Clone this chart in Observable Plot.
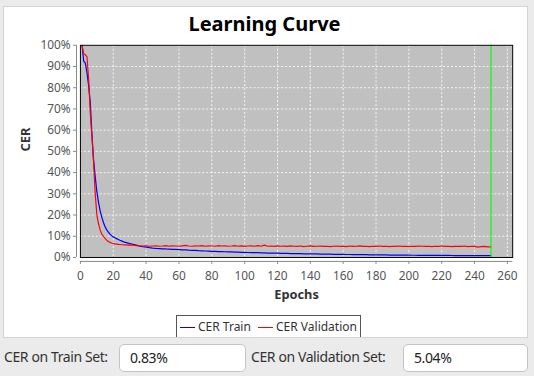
<!DOCTYPE html>
<html>
<head>
<meta charset="utf-8">
<script src="https://cdn.jsdelivr.net/npm/d3@7"></script>
<script src="https://cdn.jsdelivr.net/npm/@observablehq/plot@0.6"></script>
<style>
  html, body { margin: 0; padding: 0; }
  body { width: 534px; height: 376px; background: #ebebeb; position: relative; overflow: hidden; font-family: "Noto Sans", sans-serif; }
  #panel { position: absolute; left: 3px; top: 6px; width: 523px; height: 330px; background: #fff; border: 1px solid #d4d4d4; overflow: hidden; }
  #title { position: absolute; left: -3px; top: -6px; width: 527px; text-align: center; font-weight: bold; font-size: 20px; line-height: 20px; padding-top: 13px; color: #000; }
  #chart { position: absolute; left: -4px; top: 23px; }
  #legend { position: absolute; left: 172px; top: 308px; width: 183px; height: 40px; border: 1px solid #555; background: #fff; font-size: 12px; color: #333; }
  .item { position: absolute; top: 3px; height: 16px; line-height: 16px; white-space: nowrap; }
  .sw { position: absolute; left: 0; top: 8px; width: 15px; height: 0; border-top: 1px solid; }
  .txt { position: absolute; left: 18px; top: 0; }
  #form { position: absolute; left: 0; top: 337px; width: 534px; height: 39px; font-size: 14px; color: #333; letter-spacing: -0.4px; }
  .lbl { position: absolute; top: 12px; line-height: 16px; }
  .box { position: absolute; top: 7px; height: 28px; background: #fff; border: 1px solid #c4c4c4; border-radius: 5px; box-sizing: border-box; padding-left: 10px; line-height: 26px; color: #222; }
</style>
</head>
<body>
<div id="panel">
  <div id="title">Learning Curve</div>
  <div id="chart"></div>
  <div id="legend"></div>
</div>
<div id="form"></div>
<script>
const epochs = [1,2,3,4,5,6,7,8,9,10,11,12,13,14,15,16,17,18,19,20,21,22,23,24,25,26,27,28,29,30,
  32,34,36,38,40,42,44,46,48,50,
  52,54,56,58,60,62,64,66,68,70,
  72,74,76,78,80,82,84,86,88,90,
  92,94,96,98,100,102,104,106,108,110,
  112,114,116,118,120,122,124,126,128,130,
  132,134,136,138,140,142,144,146,148,150,
  152,154,156,158,160,162,164,166,168,170,
  172,174,176,178,180,182,184,186,188,190,
  192,194,196,198,200,202,204,206,208,210,
  212,214,216,218,220,222,224,226,228,230,
  232,234,236,238,240,242,244,246,248,250];

const trainCER = [100,92.5,91.5,87,81,73,58,46,38,31,26,22,19,16.5,14.5,13,12,11,10.3,9.7,9.3,8.9,8.5,8.1,7.8,7.5,7.2,7.0,6.8,6.6,
  6.2,5.8,5.4,5.1,4.9,4.65,4.45,4.3,4.2,4.1,
  4.0,3.95,3.85,3.8,3.7,3.6,3.55,3.45,3.4,3.3,
  3.2,3.15,3.05,3.0,2.9,2.85,2.8,2.75,2.7,2.65,
  2.6,2.55,2.5,2.45,2.4,2.35,2.3,2.3,2.25,2.2,
  2.15,2.1,2.1,2.05,2.0,1.95,1.95,1.9,1.85,1.85,
  1.8,1.8,1.75,1.7,1.7,1.65,1.65,1.6,1.6,1.55,
  1.55,1.5,1.5,1.45,1.45,1.4,1.4,1.38,1.35,1.33,
  1.3,1.3,1.28,1.25,1.23,1.2,1.2,1.18,1.15,1.15,
  1.12,1.1,1.1,1.08,1.07,1.05,1.05,1.03,1.02,1.0,
  1.0,0.99,0.98,0.97,0.96,0.95,0.94,0.93,0.92,0.91,
  0.9,0.9,0.89,0.88,0.87,0.86,0.86,0.85,0.84,0.83];

const validationCER = [100,96,95.5,94.5,84,68,57,45,30,20,16,13,11,10,9,8.2,7.5,7.1,6.8,6.6,6.4,6.3,6.2,6.1,6.0,6.0,5.9,6.0,5.8,5.9,
  5.8,5.6,5.5,5.4,5.5,5.3,5.4,5.5,5.3,5.4,
  5.6,5.3,5.5,5.4,5.3,5.5,5.7,5.4,5.3,5.5,
  5.4,5.6,5.3,5.5,5.4,5.3,5.6,5.4,5.5,5.3,
  5.4,5.6,5.3,5.5,5.2,5.4,5.5,5.3,5.6,5.3,
  5.8,5.3,5.4,5.2,5.5,5.3,5.4,5.2,5.5,5.3,
  5.2,5.4,5.1,5.3,5.5,5.2,5.3,5.4,5.2,5.3,
  5.1,5.3,5.4,5.2,5.3,5.1,5.4,5.2,5.3,5.5,
  5.2,5.3,5.1,5.3,5.2,5.4,5.2,5.3,5.1,5.3,
  5.2,5.4,5.2,5.3,5.1,5.3,5.2,5.4,5.3,5.2,
  5.3,5.1,5.3,5.2,5.4,5.2,5.3,5.1,5.2,5.3,
  5.2,5.4,5.1,5.3,5.2,4.9,5.1,5.2,5.0,5.04];

const xTicks = [0,20,40,60,80,100,120,140,160,180,200,220,240,260];
const yTicks = [0,10,20,30,40,50,60,70,80,90,100];
const currentEpoch = [250];
const seriesNames = ["CER Train", "CER Validation"];
const seriesColors = ["#0000ff", "#ff0000"];
const formLabels = ["CER on Train Set:", "CER on Validation Set:"];
const formValues = ["0.83%", "5.04%"];

const trainData = epochs.map((e, i) => ({epoch: e, cer: trainCER[i]}));
const valData = epochs.map((e, i) => ({epoch: e, cer: validationCER[i]}));

const gridStyle = {stroke: "#ffffff", strokeOpacity: 0.85, strokeDasharray: "2,2", strokeWidth: 1};

const chart = Plot.plot({
  width: 534,
  height: 280,
  marginLeft: 81,
  marginRight: 15,
  marginTop: 15,
  marginBottom: 50,
  x: {domain: [0, 263.22]},
  y: {domain: [0, 100]},
  style: {fontFamily: "'Noto Sans', sans-serif", fontSize: "12px", background: "transparent", color: "#555", overflow: "visible"},
  marks: [
    Plot.frame({fill: "#c0c0c0"}),
    Plot.gridX({ticks: xTicks, ...gridStyle}),
    Plot.gridY({ticks: yTicks, ...gridStyle}),
    Plot.axisX({ticks: xTicks, tickSize: 3, tickPadding: 7, dy: 4, stroke: "#888", fill: "#555", label: null}),
    Plot.axisY({ticks: yTicks, tickSize: 3, tickPadding: 3, dx: -4, stroke: "#888", fill: "#555", tickFormat: d => d + "%", label: null}),
    Plot.ruleX([0], {dx: -4, stroke: "#888"}),
    Plot.ruleY([0], {dy: 4, stroke: "#888"}),
    Plot.line(trainData, {x: "epoch", y: "cer", stroke: seriesColors[0], strokeWidth: 1.25, clip: true}),
    Plot.line(valData, {x: "epoch", y: "cer", stroke: seriesColors[1], strokeWidth: 1.2, clip: true}),
    Plot.ruleX(currentEpoch, {stroke: "#00ff00", strokeWidth: 1.2}),
    Plot.frame({stroke: "#000"}),
    Plot.text(["Epochs"], {frameAnchor: "bottom", lineAnchor: "middle", dy: 38, fontWeight: "bold", fontSize: 13, fill: "#333"}),
    Plot.text(["CER"], {frameAnchor: "left", dx: -55, rotate: -90, fontWeight: "bold", fontSize: 13, fill: "#333"})
  ]
});
document.getElementById("chart").appendChild(chart);

const legend = d3.select("#legend");
const offsets = [3, 81];
seriesNames.forEach((name, i) => {
  const it = legend.append("div").attr("class", "item").style("left", offsets[i] + "px");
  it.append("div").attr("class", "sw").style("border-top-color", seriesColors[i]);
  it.append("div").attr("class", "txt").text(name);
});

const form = document.getElementById("form");
const lblX = [4, 251];
const boxX = [119, 403];
const boxW = [127, 125];
formLabels.forEach((t, i) => {
  const l = document.createElement("div");
  l.className = "lbl"; l.style.left = lblX[i] + "px"; l.textContent = t;
  form.appendChild(l);
  const b = document.createElement("div");
  b.className = "box"; b.style.left = boxX[i] + "px"; b.style.width = boxW[i] + "px"; b.textContent = formValues[i];
  form.appendChild(b);
});
</script>
</body>
</html>
